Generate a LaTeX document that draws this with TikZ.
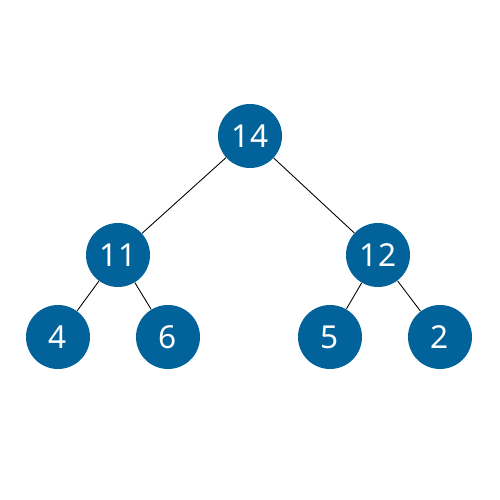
\documentclass[tikz,border=0pt]{standalone}
\usepackage{fontspec}
\setmainfont{Noto Sans}
\usepackage{tikz}
\usetikzlibrary{positioning}
\definecolor{heapblue}{RGB}{2,98,154}

\begin{document}
\begin{tikzpicture}[
  every node/.style={font=\fontsize{18}{20}\selectfont},
  heapnode/.style={circle,fill=heapblue,text=white,minimum size=1.28cm,inner sep=0pt},
  edge/.style={draw=black,line width=0.5pt}]
\useasboundingbox (0,0) rectangle (10,10);
\node[heapnode] (root) at (5,7.28) {14};
\node[heapnode] (left) at (2.36,4.9) {11};
\node[heapnode] (right) at (7.56,4.9) {12};
\node[heapnode] (ll) at (1.16,3.26) {4};
\node[heapnode] (lr) at (3.36,3.26) {6};
\node[heapnode] (rl) at (6.6,3.26) {5};
\node[heapnode] (rr) at (8.8,3.26) {2};
\draw[edge] (root) -- (left);
\draw[edge] (root) -- (right);
\draw[edge] (left) -- (ll);
\draw[edge] (left) -- (lr);
\draw[edge] (right) -- (rl);
\draw[edge] (right) -- (rr);
\end{tikzpicture}
\end{document}
